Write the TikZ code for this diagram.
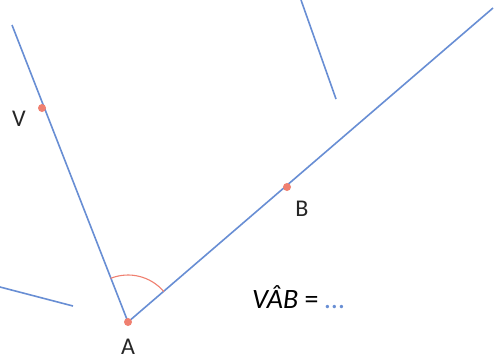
\documentclass[tikz,border=0pt]{standalone}
\usepackage{fontspec}
\setmainfont{Carlito}
\usetikzlibrary{calc}
\begin{document}
\begin{tikzpicture}[x=1pt,y=-1pt,
  ln/.style={draw=lineblue,line width=1.6pt},
  pt/.style={circle,fill=dotred,inner sep=0pt,minimum size=8pt},
  lbl/.style={font=\fontsize{24}{28}\selectfont,text=black!85}]
\definecolor{lineblue}{RGB}{104,142,212}
\definecolor{dotred}{RGB}{240,128,112}
\useasboundingbox[fill=white] (0,0) rectangle (494,362);
\coordinate (A) at (128,322);
\coordinate (V) at (42,108);
\coordinate (B) at (287,187);
\coordinate (Vend) at (12,25);
\coordinate (Bend) at (493,8);
\coordinate (S1a) at (301,0);
\coordinate (S1b) at (336,99);
\coordinate (S2a) at (0,287);
\coordinate (S2b) at (73,306);
\draw[ln] (A) -- (Vend);
\draw[ln] (A) -- (Bend);
\draw[ln] (S1a) -- (S1b);
\draw[ln] (S2a) -- (S2b);
\draw[draw=dotred,line width=1.1pt] ($(A)+(-40.3:47)$) arc[start angle=-40.3,end angle=-111.9,radius=47];
\node[pt] (pA) at (A) {};
\node[pt] (pV) at (V) {};
\node[pt] (pB) at (B) {};
\node[lbl] (lA) at (128,347) {A};
\node[lbl] (lV) at (19,119) {V};
\node[lbl] (lB) at (302,209) {B};
\node[anchor=west,font=\fontsize{28}{32}\selectfont,inner sep=0pt] (eq) at (252,297) {\textit{V\^AB} = \textcolor{lineblue}{\ldots}};
\end{tikzpicture}
\end{document}
